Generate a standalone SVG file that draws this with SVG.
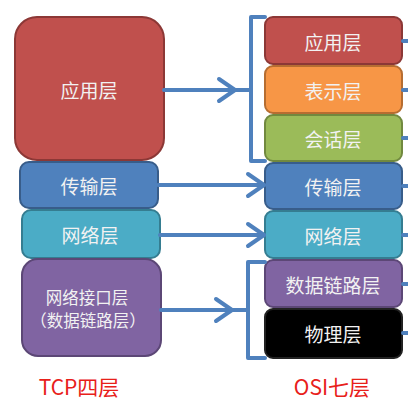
<svg xmlns="http://www.w3.org/2000/svg" width="408" height="410" viewBox="0 0 408 410">
<defs>
<style>
.t{font-family:"Noto Sans CJK SC","Noto Sans",sans-serif;font-size:19px;fill:#f2f2f2;text-anchor:middle;dominant-baseline:central}
.s{font-size:16.5px}
.lbl{font-family:"Noto Sans CJK SC","Noto Sans",sans-serif;font-size:21px;fill:#e8201a;text-anchor:middle;dominant-baseline:central}
.c{stroke:#4f81bd;stroke-width:4;fill:none;stroke-linecap:round;stroke-linejoin:round}
.b{stroke-width:2}
</style>
</defs>
<rect width="408" height="410" fill="#ffffff"/>
<g id="tcp-app"><rect class="b" x="15" y="17" width="149" height="143" rx="22" fill="#c0504d" stroke="#8c3836"/><text class="t" x="89" y="89">应用层</text></g>
<g id="tcp-transport"><rect class="b" x="20" y="162" width="138" height="46" rx="9" fill="#4f81bd" stroke="#385d8a"/><text class="t" x="89" y="185">传输层</text></g>
<g id="tcp-network"><rect class="b" x="22" y="210" width="138" height="48" rx="9" fill="#4bacc6" stroke="#357d91"/><text class="t" x="90" y="234">网络层</text></g>
<g id="tcp-link"><rect class="b" x="22" y="259" width="139" height="97" rx="16" fill="#8064a2" stroke="#5c4776"/><text class="t s" x="87" y="297">网络接口层</text><text class="t s" x="88" y="320">（数据链路层）</text></g>
<g id="osi-app"><rect class="b" x="265" y="17" width="137" height="47" rx="8" fill="#c0504d" stroke="#8c3836"/><text class="t" x="333" y="41">应用层</text></g>
<g id="osi-pres"><rect class="b" x="265" y="66" width="137" height="47" rx="8" fill="#f79646" stroke="#b66d31"/><text class="t" x="333" y="90">表示层</text></g>
<g id="osi-sess"><rect class="b" x="265" y="115" width="137" height="46" rx="8" fill="#9bbb59" stroke="#71893f"/><text class="t" x="333" y="138">会话层</text></g>
<g id="osi-transport"><rect class="b" x="265" y="163" width="137" height="46" rx="8" fill="#4f81bd" stroke="#385d8a"/><text class="t" x="333" y="186">传输层</text></g>
<g id="osi-network"><rect class="b" x="265" y="211" width="137" height="47" rx="8" fill="#4bacc6" stroke="#357d91"/><text class="t" x="333" y="235">网络层</text></g>
<g id="osi-link"><rect class="b" x="265" y="260" width="137" height="47" rx="8" fill="#8064a2" stroke="#5c4776"/><text class="t" x="333" y="284">数据链路层</text></g>
<g id="osi-phys"><rect class="b" x="265" y="309" width="137" height="49" rx="8" fill="#000000" stroke="#222"/><text class="t" x="333" y="333">物理层</text></g>
<g id="connectors">
<path class="c" d="M164 90 H251"/><path class="c" d="M219 79 L235 90 L219 101"/>
<path class="c" d="M265 17 H251 V161 H265"/>
<path class="c" d="M158 185 H264"/><path class="c" d="M248 174 L264 185 L248 196"/>
<path class="c" d="M160 235 H264"/><path class="c" d="M248 224 L264 235 L248 246"/>
<path class="c" d="M161 310 H248"/><path class="c" d="M216 299 L232 310 L216 321"/>
<path class="c" d="M265 262 H248 V358 H265"/>
<path class="c" d="M403 41 H410 M403 90 H410 M403 138 H410 M403 186 H410 M403 235 H410 M403 284 H410 M403 333 H410"/>
</g>
<text class="lbl" x="79" y="386">TCP四层</text>
<text class="lbl" x="332" y="386">OSI七层</text>
</svg>
